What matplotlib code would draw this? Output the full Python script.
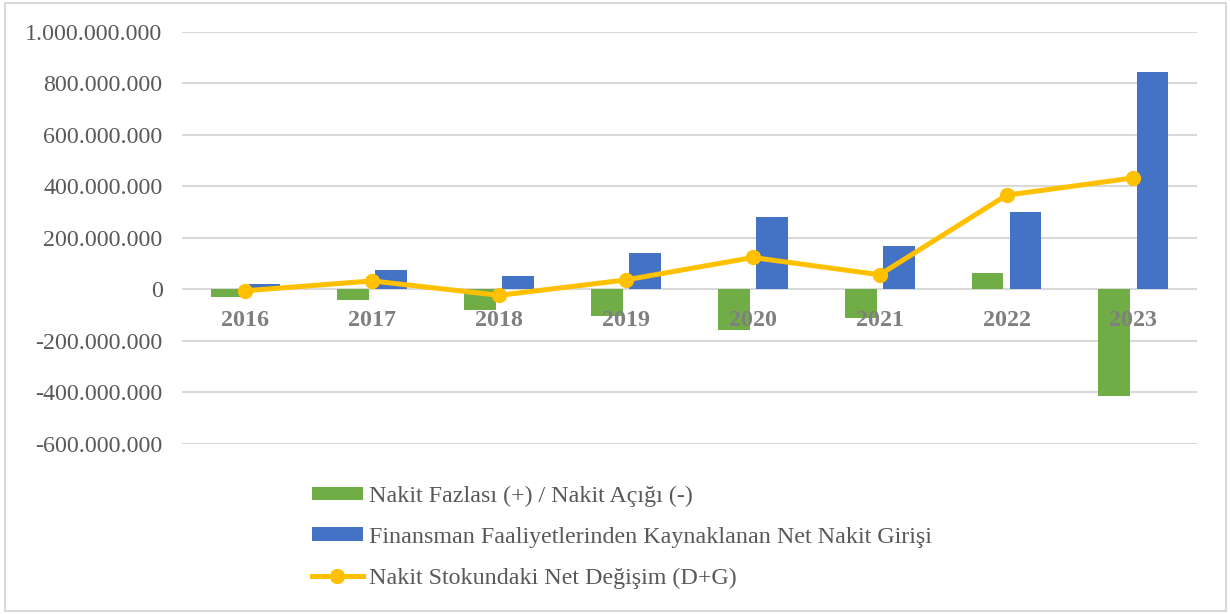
import matplotlib
matplotlib.use("Agg")
import matplotlib.pyplot as plt
from matplotlib.patches import Rectangle
from matplotlib.ticker import FuncFormatter
import numpy as np

plt.rcParams['font.family'] = ['Liberation Serif', 'DejaVu Serif']

years = ['2016', '2017', '2018', '2019', '2020', '2021', '2022', '2023']
nakit_fazlasi = [-30e6, -42e6, -78e6, -104e6, -158e6, -111e6, 63e6, -414e6]
finansman = [23e6, 74e6, 53e6, 140e6, 282e6, 167e6, 302e6, 846e6]
net_degisim = [-5e6, 33e6, -23e6, 37e6, 124e6, 57e6, 366e6, 433e6]

labels = ['Nakit Fazlası (+) / Nakit Açığı (-)',
          'Finansman Faaliyetlerinden Kaynaklanan Net Nakit Girişi',
          'Nakit Stokundaki Net Değişim (D+G)']

GREEN = '#70AD47'
BLUE = '#4472C4'
YELLOW = '#FFC000'
GRID = '#D9D9D9'
TEXT = '#595959'
FS = 17.3

fig = plt.figure(figsize=(12.3, 6.14), dpi=100)
ax = fig.add_axes([0.148, 0.277, 0.825, 0.671])

x = np.arange(len(years))
w = 0.25
b1 = ax.bar(x - 0.15, nakit_fazlasi, w, color=GREEN, zorder=1, label=labels[0])
b2 = ax.bar(x + 0.15, finansman, w, color=BLUE, zorder=1, label=labels[1])
ln, = ax.plot(x, net_degisim, color=YELLOW, lw=3.6, marker='o', ms=10,
              zorder=3, label=labels[2])

ax.set_xlim(-0.5, len(years) - 0.5)
ax.set_ylim(-600e6, 1000e6)
yt = np.arange(-600e6, 1000e6 + 1, 200e6)
ax.set_yticks(yt)
for v in yt:
    ax.axhline(v, color=GRID, lw=1.5, zorder=0)

def fmt(v, pos):
    s = f"{abs(int(round(v))):,}".replace(',', '.')
    return '-' + s if v < 0 else s

ax.yaxis.set_major_formatter(FuncFormatter(fmt))
ax.spines['bottom'].set_position(('data', 0))
for s in ax.spines.values():
    s.set_visible(False)
ax.set_xticks(x)
ax.set_xticklabels(years, fontweight='bold')
ax.tick_params(axis='y', length=0, pad=14, labelsize=FS, labelcolor=TEXT)
ax.tick_params(axis='x', length=0, pad=15, labelsize=FS, labelcolor='#7F7F7F')
for t in ax.get_xticklabels():
    t.set_fontweight('bold')

leg = fig.legend(handles=[b1, b2, ln], labels=labels, loc='upper left',
                 bbox_to_anchor=(0.2537, 0.2085), frameon=False, fontsize=FS,
                 handlelength=2.1, handleheight=0.5, handletextpad=0.25,
                 labelspacing=0.82, borderpad=0, borderaxespad=0)
for t in leg.get_texts():
    t.set_color(TEXT)

fig.patches.append(Rectangle((5 / 1230, 3 / 614), 1221 / 1230, 608 / 614,
                             transform=fig.transFigure, fill=False,
                             edgecolor=GRID, lw=1.5))

fig.savefig('out.png', dpi=100)
